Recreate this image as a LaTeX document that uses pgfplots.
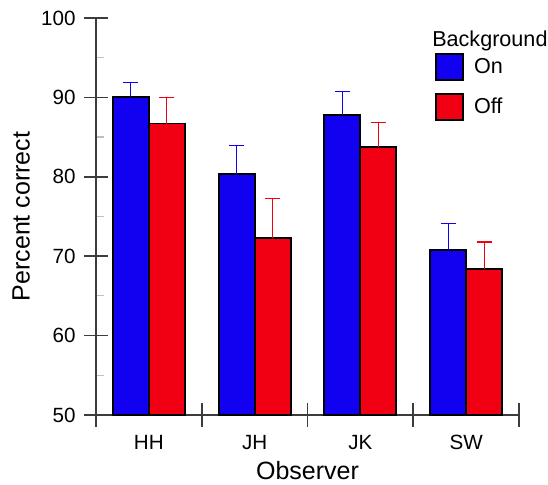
\documentclass[border=0pt]{standalone}
\usepackage{fontspec}
\setmainfont{Liberation Sans}
\usepackage{pgfplots}
\pgfplotsset{compat=1.18}
\definecolor{barblue}{RGB}{18,0,240}
\definecolor{barred}{RGB}{240,0,18}
\definecolor{axisgray}{RGB}{60,60,60}

% percent correct, value and upper error
\pgfplotstableread{
x  on    onerr  off   offerr
0  90.0  1.9    86.7  3.3
1  80.4  3.5    72.3  5.0
2  87.8  2.9    83.8  3.0
3  70.8  3.3    68.4  3.4
}\obs

\begin{document}
\begin{tikzpicture}
\useasboundingbox (-48pt,-35pt) rectangle (226pt,207.5pt);
\begin{axis}[
  scale only axis, clip=false,
  width=211.5pt, height=198.5pt,
  ybar=0pt, bar width=18pt,
  xmin=-0.5, xmax=3.5, ymin=50, ymax=100,
  axis x line=bottom, axis y line=left,
  axis line style={-, axisgray, line width=0.9pt},
  xtick={-0.5,0.5,1.5,2.5,3.5},
  x tick label as interval,
  xticklabels={HH,JH,JK,SW},
  ytick={50,60,70,80,90,100},
  minor y tick num=1,
  tick align=center,
  major tick length=12pt,
  minor tick length=4pt,
  tick style={axisgray, line width=0.8pt},
  minor tick style={gray!50, line width=0.6pt, xshift=2pt},
  /pgf/number format/assume math mode=true,
  tick label style={font=\fontsize{10.3}{12}\selectfont, inner sep=0pt},
  yticklabel style={anchor=east, xshift=-4pt},
  xticklabel style={anchor=north, yshift=-4pt},
  xlabel={Observer}, ylabel={Percent correct},
  label style={font=\fontsize{12.5}{14}\selectfont},
  xlabel style={at={(axis description cs:0.5,-0.141)}, anchor=center},
  ylabel style={at={(axis description cs:-0.177,0.5)}, anchor=center, rotate=0},
  legend style={draw=none, fill=none, at={(axis description cs:0.801,0.912)},
    anchor=north west, inner sep=0pt, row sep=6pt, column sep=5pt,
    font=\fontsize{10.8}{12}\selectfont, nodes={inner sep=0pt}},
  legend cell align=left,
]
\addplot[fill=barblue, draw=black, line width=0.9pt,
  legend image code/.code={\draw[fill=barblue, draw=black, line width=0.9pt] (0pt,-6.5pt) rectangle (13.5pt,6.5pt);},
  error bars/.cd, y dir=plus, y explicit,
  error bar style={barblue, line width=0.6pt},
  error mark options={rotate=90, barblue, mark size=3.75pt, line width=0.6pt}]
  table[x=x, y=on, y error=onerr] {\obs};
\addlegendentry{On}
\addplot[fill=barred, draw=black, line width=0.9pt,
  legend image code/.code={\draw[fill=barred, draw=black, line width=0.9pt] (0pt,-6.5pt) rectangle (13.5pt,6.5pt);},
  error bars/.cd, y dir=plus, y explicit,
  error bar style={barred, line width=0.6pt},
  error mark options={rotate=90, barred, mark size=3.75pt, line width=0.6pt}]
  table[x=x, y=off, y error=offerr] {\obs};
\addlegendentry{Off}
\node[anchor=base west, font=\fontsize{10.8}{12}\selectfont, inner sep=0pt]
  at (axis description cs:0.794,0.927) {Background};
\end{axis}
\end{tikzpicture}
\end{document}
